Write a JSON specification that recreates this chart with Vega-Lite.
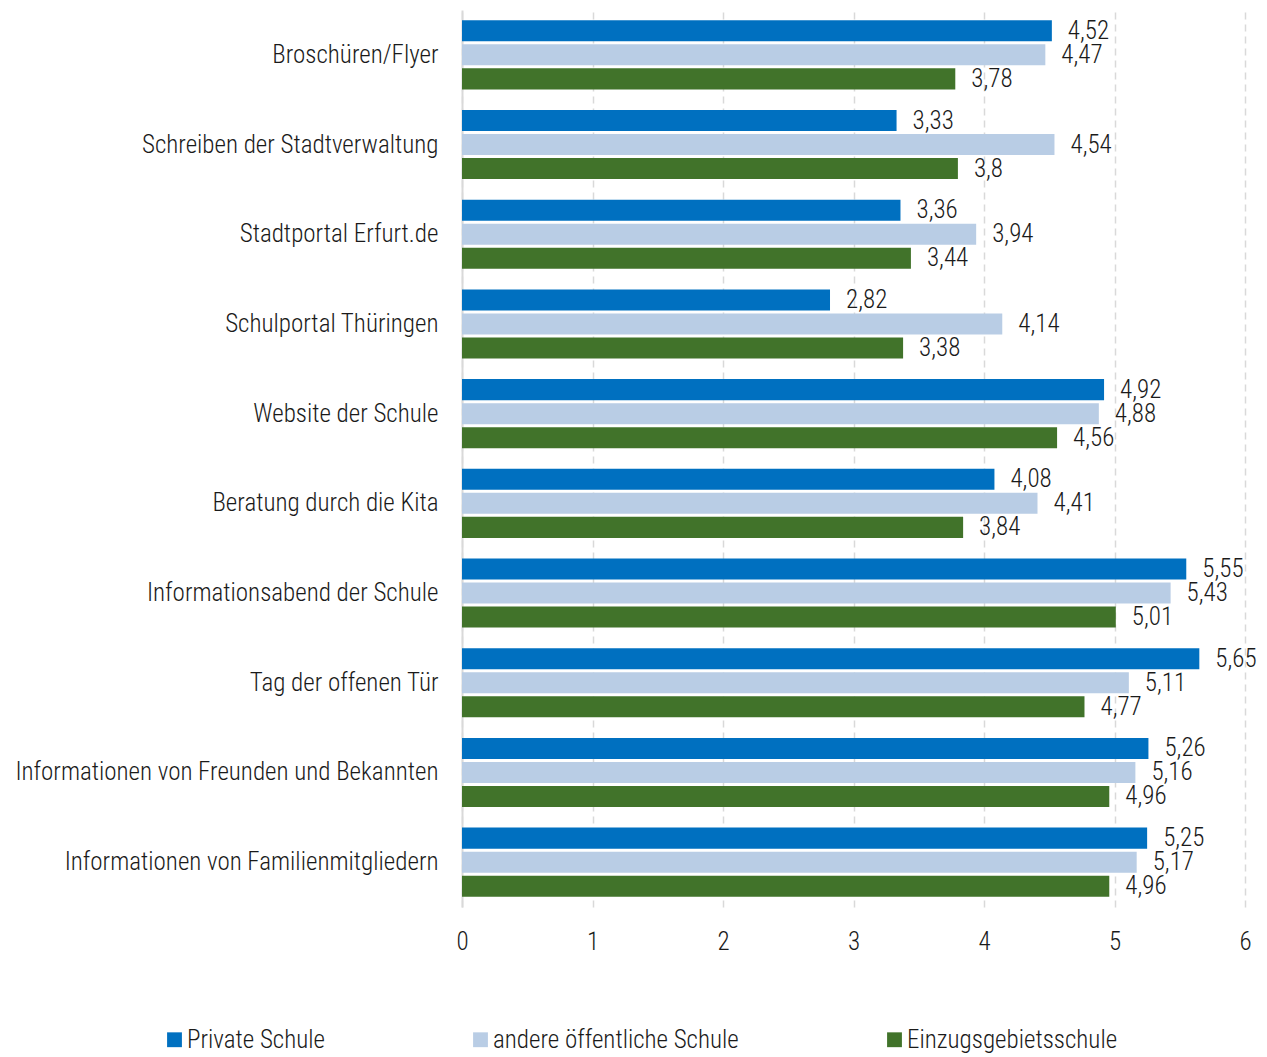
{
  "$schema": "https://vega.github.io/schema/vega-lite/v6.json",
  "width": 783,
  "height": 897,
  "autosize": {"type": "none"},
  "padding": {"left": 462, "top": 10, "right": 22, "bottom": 150},
  "config": {
    "locale": {"number": {"decimal": ",", "thousands": ".", "grouping": [3], "currency": ["", " €"]}},
    "view": {"stroke": null},
    "font": "Roboto Condensed, Lato, sans-serif",
    "text": {"font": "Roboto Condensed, Lato, sans-serif"}
  },
  "data": {
    "values": [
      {"cat": "Broschüren/Flyer", "series": "Private Schule", "value": 4.52},
      {"cat": "Broschüren/Flyer", "series": "andere öffentliche Schule", "value": 4.47},
      {"cat": "Broschüren/Flyer", "series": "Einzugsgebietsschule", "value": 3.78},
      {"cat": "Schreiben der Stadtverwaltung", "series": "Private Schule", "value": 3.33},
      {"cat": "Schreiben der Stadtverwaltung", "series": "andere öffentliche Schule", "value": 4.54},
      {"cat": "Schreiben der Stadtverwaltung", "series": "Einzugsgebietsschule", "value": 3.8},
      {"cat": "Stadtportal Erfurt.de", "series": "Private Schule", "value": 3.36},
      {"cat": "Stadtportal Erfurt.de", "series": "andere öffentliche Schule", "value": 3.94},
      {"cat": "Stadtportal Erfurt.de", "series": "Einzugsgebietsschule", "value": 3.44},
      {"cat": "Schulportal Thüringen", "series": "Private Schule", "value": 2.82},
      {"cat": "Schulportal Thüringen", "series": "andere öffentliche Schule", "value": 4.14},
      {"cat": "Schulportal Thüringen", "series": "Einzugsgebietsschule", "value": 3.38},
      {"cat": "Website der Schule", "series": "Private Schule", "value": 4.92},
      {"cat": "Website der Schule", "series": "andere öffentliche Schule", "value": 4.88},
      {"cat": "Website der Schule", "series": "Einzugsgebietsschule", "value": 4.56},
      {"cat": "Beratung durch die Kita", "series": "Private Schule", "value": 4.08},
      {"cat": "Beratung durch die Kita", "series": "andere öffentliche Schule", "value": 4.41},
      {"cat": "Beratung durch die Kita", "series": "Einzugsgebietsschule", "value": 3.84},
      {"cat": "Informationsabend der Schule", "series": "Private Schule", "value": 5.55},
      {"cat": "Informationsabend der Schule", "series": "andere öffentliche Schule", "value": 5.43},
      {"cat": "Informationsabend der Schule", "series": "Einzugsgebietsschule", "value": 5.01},
      {"cat": "Tag der offenen Tür", "series": "Private Schule", "value": 5.65},
      {"cat": "Tag der offenen Tür", "series": "andere öffentliche Schule", "value": 5.11},
      {"cat": "Tag der offenen Tür", "series": "Einzugsgebietsschule", "value": 4.77},
      {"cat": "Informationen von Freunden und Bekannten", "series": "Private Schule", "value": 5.26},
      {"cat": "Informationen von Freunden und Bekannten", "series": "andere öffentliche Schule", "value": 5.16},
      {"cat": "Informationen von Freunden und Bekannten", "series": "Einzugsgebietsschule", "value": 4.96},
      {"cat": "Informationen von Familienmitgliedern", "series": "Private Schule", "value": 5.25},
      {"cat": "Informationen von Familienmitgliedern", "series": "andere öffentliche Schule", "value": 5.17},
      {"cat": "Informationen von Familienmitgliedern", "series": "Einzugsgebietsschule", "value": 4.96}
    ]
  },
  "encoding": {
    "y": {
      "field": "cat", "type": "nominal", "sort": null,
      "scale": {"paddingInner": 0.23, "paddingOuter": 0.115},
      "axis": {"title": null, "ticks": false, "domainColor": "#d9d9d9", "domainWidth": 2, "labelPadding": 24, "labelFontSize": 25, "labelFontWeight": 300, "labelColor": "#1a1a1a", "labelLimit": 0}
    },
    "yOffset": {
      "field": "series", "type": "nominal",
      "sort": ["Private Schule", "andere öffentliche Schule", "Einzugsgebietsschule"],
      "scale": {"paddingInner": 0.125, "paddingOuter": 0}
    },
    "x": {
      "field": "value", "type": "quantitative",
      "scale": {"domain": [0, 6], "nice": false},
      "axis": {"title": null, "values": [0, 1, 2, 3, 4, 5, 6], "grid": true, "gridDash": [7, 5], "gridColor": "#d9d9d9", "gridWidth": 1.5, "domain": false, "ticks": false, "labelFlush": false, "labelPadding": 22, "labelFontSize": 25, "labelFontWeight": 300, "labelColor": "#1a1a1a", "format": "d"}
    }
  },
  "layer": [
    {
      "mark": {"type": "bar"},
      "encoding": {
        "color": {
          "field": "series", "type": "nominal",
          "sort": ["Private Schule", "andere öffentliche Schule", "Einzugsgebietsschule"],
          "scale": {"domain": ["Private Schule", "andere öffentliche Schule", "Einzugsgebietsschule"], "range": ["#0070C0", "#B9CDE5", "#41732A"]},
          "legend": {"title": null, "orient": "none", "direction": "horizontal", "legendX": -300, "legendY": 1017, "symbolType": "square", "symbolSize": 220, "symbolStrokeWidth": 0, "labelFontSize": 25, "labelFontWeight": 300, "labelColor": "#1a1a1a", "columnPadding": 143, "labelOffset": 0, "padding": 0, "labelLimit": 0}
        }
      }
    },
    {
      "mark": {"type": "text", "align": "left", "baseline": "middle", "dx": 16, "fontSize": 25, "fontWeight": 300, "color": "#1a1a1a"},
      "encoding": {"text": {"field": "value", "type": "quantitative", "format": "~g"}}
    }
  ]
}
